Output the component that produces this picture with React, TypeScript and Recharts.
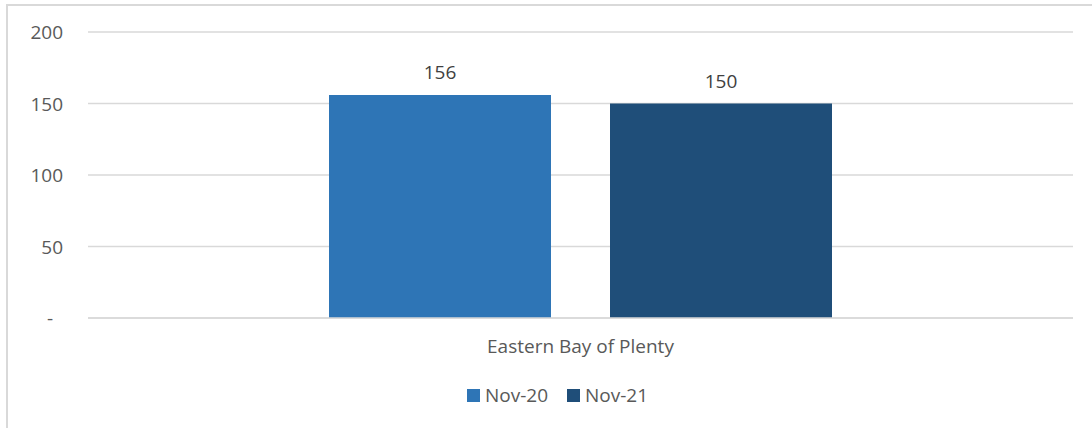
import React from "react";
import { BarChart, Bar, XAxis, YAxis, CartesianGrid, Legend, LabelList } from "recharts";

const categories = ["Eastern Bay of Plenty"];
const nov20 = [156];
const nov21 = [150];
const yTicks = [0, 50, 100, 150, 200];
const seriesNames = ["Nov-20", "Nov-21"];
const colors = ["#2E75B6", "#1F4E79"];

const data = categories.map((c, i) => ({ name: c, nov20: nov20[i], nov21: nov21[i] }));

const FONT = "Open Sans, Liberation Sans, sans-serif";
const FS = 19;

const YTick = (props: any) => {
  const { x, y, payload } = props;
  const isZero = payload.value === 0;
  return (
    <text
      x={isZero ? x - 13 : x}
      y={y}
      dy={7}
      textAnchor={isZero ? "middle" : "end"}
      fill="#595959"
      fontSize={FS}
      fontFamily={FONT}
    >
      {isZero ? "-" : payload.value}
    </text>
  );
};

const LegendContent = () => (
  <div
    style={{
      display: "flex",
      justifyContent: "center",
      fontFamily: FONT,
      fontSize: FS,
      color: "#595959",
      lineHeight: "24px",
      paddingLeft: 34,
    }}
  >
    {seriesNames.map((n, i) => (
      <div key={n} style={{ display: "flex", alignItems: "center", marginRight: i === 0 ? 19 : 0 }}>
        <div style={{ width: 13, height: 13, background: colors[i], marginRight: 5 }} />
        <span>{n}</span>
      </div>
    ))}
  </div>
);

export default function App() {
  return (
    <div
      style={{
        position: "absolute",
        left: 0,
        top: 0,
        width: 1092,
        height: 428,
        background: "#fff",
        overflow: "hidden",
      }}
    >
      <div
        style={{
          position: "absolute",
          left: 6,
          top: 4,
          width: 1100,
          height: 440,
          border: "2px solid #D9D9D9",
          boxSizing: "border-box",
        }}
      />
      <div style={{ position: "absolute", left: 0, top: 0 }}>
        <BarChart
          width={1092}
          height={428}
          data={data}
          margin={{ top: 32, right: 19, bottom: 30, left: 8 }}
          barGap={59}
          barSize={222}
        >
          <CartesianGrid vertical={false} stroke="#D9D9D9" strokeWidth={1.5} />
          <XAxis
            dataKey="name"
            axisLine={{ stroke: "#D9D9D9", strokeWidth: 1.5 }}
            tickLine={false}
            height={50}
            tick={{ fill: "#595959", fontSize: FS, fontFamily: FONT }}
            tickMargin={16}
          />
          <YAxis
            width={80}
            domain={[0, 200]}
            ticks={yTicks}
            axisLine={false}
            tickLine={false}
            tickMargin={19}
            tick={<YTick />}
          />
          <Legend
            verticalAlign="bottom"
            height={30}
            content={<LegendContent />}
            wrapperStyle={{ top: 383, bottom: "auto" }}
          />
          <Bar dataKey="nov20" name={seriesNames[0]} fill={colors[0]} isAnimationActive={false}>
            <LabelList dataKey="nov20" position="top" offset={16} fill="#404040" fontSize={FS} fontFamily={FONT} />
          </Bar>
          <Bar dataKey="nov21" name={seriesNames[1]} fill={colors[1]} isAnimationActive={false}>
            <LabelList dataKey="nov21" position="top" offset={16} fill="#404040" fontSize={FS} fontFamily={FONT} />
          </Bar>
        </BarChart>
      </div>
    </div>
  );
}
